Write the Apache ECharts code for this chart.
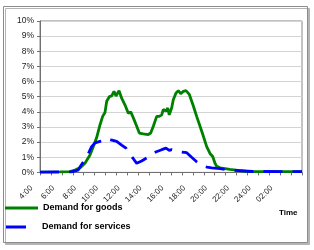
<!DOCTYPE html>
<html>
<head>
<meta charset="utf-8">
<script src="https://cdn.jsdelivr.net/npm/echarts@6/dist/echarts.min.js"></script>
<style>
html,body{margin:0;padding:0;background:#fff;}
#chart{width:314px;height:250px;}
</style>
</head>
<body>
<div id="chart"></div>
<script>
// Series names
var seriesNames = ['Demand for goods', 'Demand for services'];
// Time (hours from 4:00, >24 = next day) and values (%)
var goodsTime = [4.00,5.83,6.75,7.21,7.66,8.12,8.58,8.88,9.19,9.50,9.74,9.95,10.11,10.35,10.57,10.78,10.96,11.24,11.48,11.79,12.09,12.31,12.55,12.86,13.10,13.46,13.92,14.14,14.38,14.69,14.93,15.15,15.29,15.54,15.70,15.84,16.06,16.21,16.46,16.67,16.89,17.13,17.37,17.68,18.04,18.35,18.66,18.96,19.27,19.57,19.82,20.03,20.19,20.49,20.95,21.40,22.32,23.00,25.00,28.00];
var goodsValue = [0.02,0.03,0.05,0.15,0.3,0.6,1.15,1.7,2.3,3.15,3.7,3.95,4.7,5.0,5.05,5.35,5.05,5.4,4.9,4.45,3.9,4.0,3.6,3.05,2.6,2.55,2.5,2.6,3.05,3.7,3.7,3.8,4.15,4.05,4.25,3.8,4.25,4.8,5.25,5.4,5.2,5.35,5.4,5.15,4.4,3.7,3.05,2.4,1.7,1.25,1.05,0.6,0.4,0.3,0.25,0.2,0.12,0.06,0.05,0.05];
var servicesTime = [4.00,6.90,7.21,7.48,7.66,7.97,8.12,8.50,8.73,9.04,9.50,9.80,10.11,10.50,11.02,11.48,11.88,12.15,12.50,12.86,13.31,13.77,14.17,14.60,15.15,15.54,15.84,16.06,16.46,16.90,17.44,17.89,18.35,18.81,19.30,19.72,20.49,21.40,22.60,23.50,28.00];
var servicesValue = [0.02,0.03,0.1,0.15,0.35,0.7,0.95,1.35,1.7,1.95,2.05,2.1,2.25,2.15,2.05,1.8,1.6,1.25,0.95,0.6,0.75,0.95,1.2,1.35,1.5,1.6,1.45,1.5,1.4,1.35,1.3,1.0,0.7,0.45,0.35,0.3,0.25,0.15,0.1,0.06,0.05];
// Axis tick labels
var tickHours = [4,6,8,10,12,14,16,18,20,22,24,26];
var tickLabels = ['4:00','6:00','8:00','10:00','12:00','14:00','16:00','18:00','20:00','22:00','24:00','02:00'];
var axisTitle = 'Time';

function pairs(t, v){ return t.map(function(x,i){ return [x, v[i]]; }); }

var chart = echarts.init(document.getElementById('chart'), null, {renderer:'canvas'});
var font = 'Liberation Sans, Arial, sans-serif';
chart.setOption({
  animation: false,
  backgroundColor: '#fff',
  graphic: [{
    type: 'rect', z: -10, silent: true,
    shape: {x: 3.5, y: 6.5, width: 304, height: 236},
    style: {fill: '#fff', stroke: '#8c8c8c', lineWidth: 1,
            shadowColor: '#b4b4b4', shadowOffsetX: 2, shadowOffsetY: 2, shadowBlur: 0}
  }],
  title: {
    text: axisTitle, left: 279, top: 209, padding: 0,
    textStyle: {fontFamily: font, fontSize: 8, fontWeight: 'bold', color: '#000'}
  },
  grid: {left: 40, right: 12, top: 21, bottom: 77.6, show: true, borderColor: '#858585', borderWidth: 1, backgroundColor: '#fff'},
  legend: [{
    data: [seriesNames[0]], left: 5, top: 203.5, padding: 0,
    icon: 'rect', itemWidth: 33, itemHeight: 3,
    textStyle: {fontFamily: font, fontSize: 9, fontWeight: 'bold', color: '#000'}
  },{
    data: [seriesNames[1]], left: 6, top: 222.5, padding: 0,
    icon: 'rect', itemWidth: 20, itemHeight: 3,
    textStyle: {fontFamily: font, fontSize: 9, fontWeight: 'bold', color: '#000', padding: [0,0,0,11]}
  }],
  xAxis: {
    type: 'value', min: 4, max: 28, interval: 1,
    axisLine: {lineStyle: {color: '#707070', width: 1}},
    axisTick: {show: true, length: 3, lineStyle: {color: '#707070'}},
    splitLine: {show: false},
    axisLabel: {
      rotate: 45, margin: 6, padding: [0, 12, 0, 0], fontFamily: font, fontSize: 8, color: '#222',
      formatter: function(v){ var i = tickHours.indexOf(v); return i >= 0 ? tickLabels[i] : ''; }
    }
  },
  yAxis: {
    type: 'value', min: 0, max: 10, interval: 1,
    axisLine: {show: true, lineStyle: {color: '#707070', width: 1}},
    axisTick: {show: true, length: 3, lineStyle: {color: '#707070'}},
    splitLine: {show: true, lineStyle: {color: '#d4d4d4', width: 1}},
    axisLabel: {margin: 6, fontFamily: font, fontSize: 8.5, color: '#222', formatter: '{value}%'}
  },
  series: [{
    name: seriesNames[0], type: 'line', symbol: 'none', smooth: false,
    data: pairs(goodsTime, goodsValue),
    itemStyle: {color: '#008000'},
    lineStyle: {color: '#008000', width: 2.8}
  },{
    name: seriesNames[1], type: 'line', symbol: 'none', smooth: false,
    data: pairs(servicesTime, servicesValue),
    itemStyle: {color: '#0000ff'},
    lineStyle: {color: '#0000ff', width: 2.8, type: [19, 10]}
  }]
});
</script>
</body>
</html>
